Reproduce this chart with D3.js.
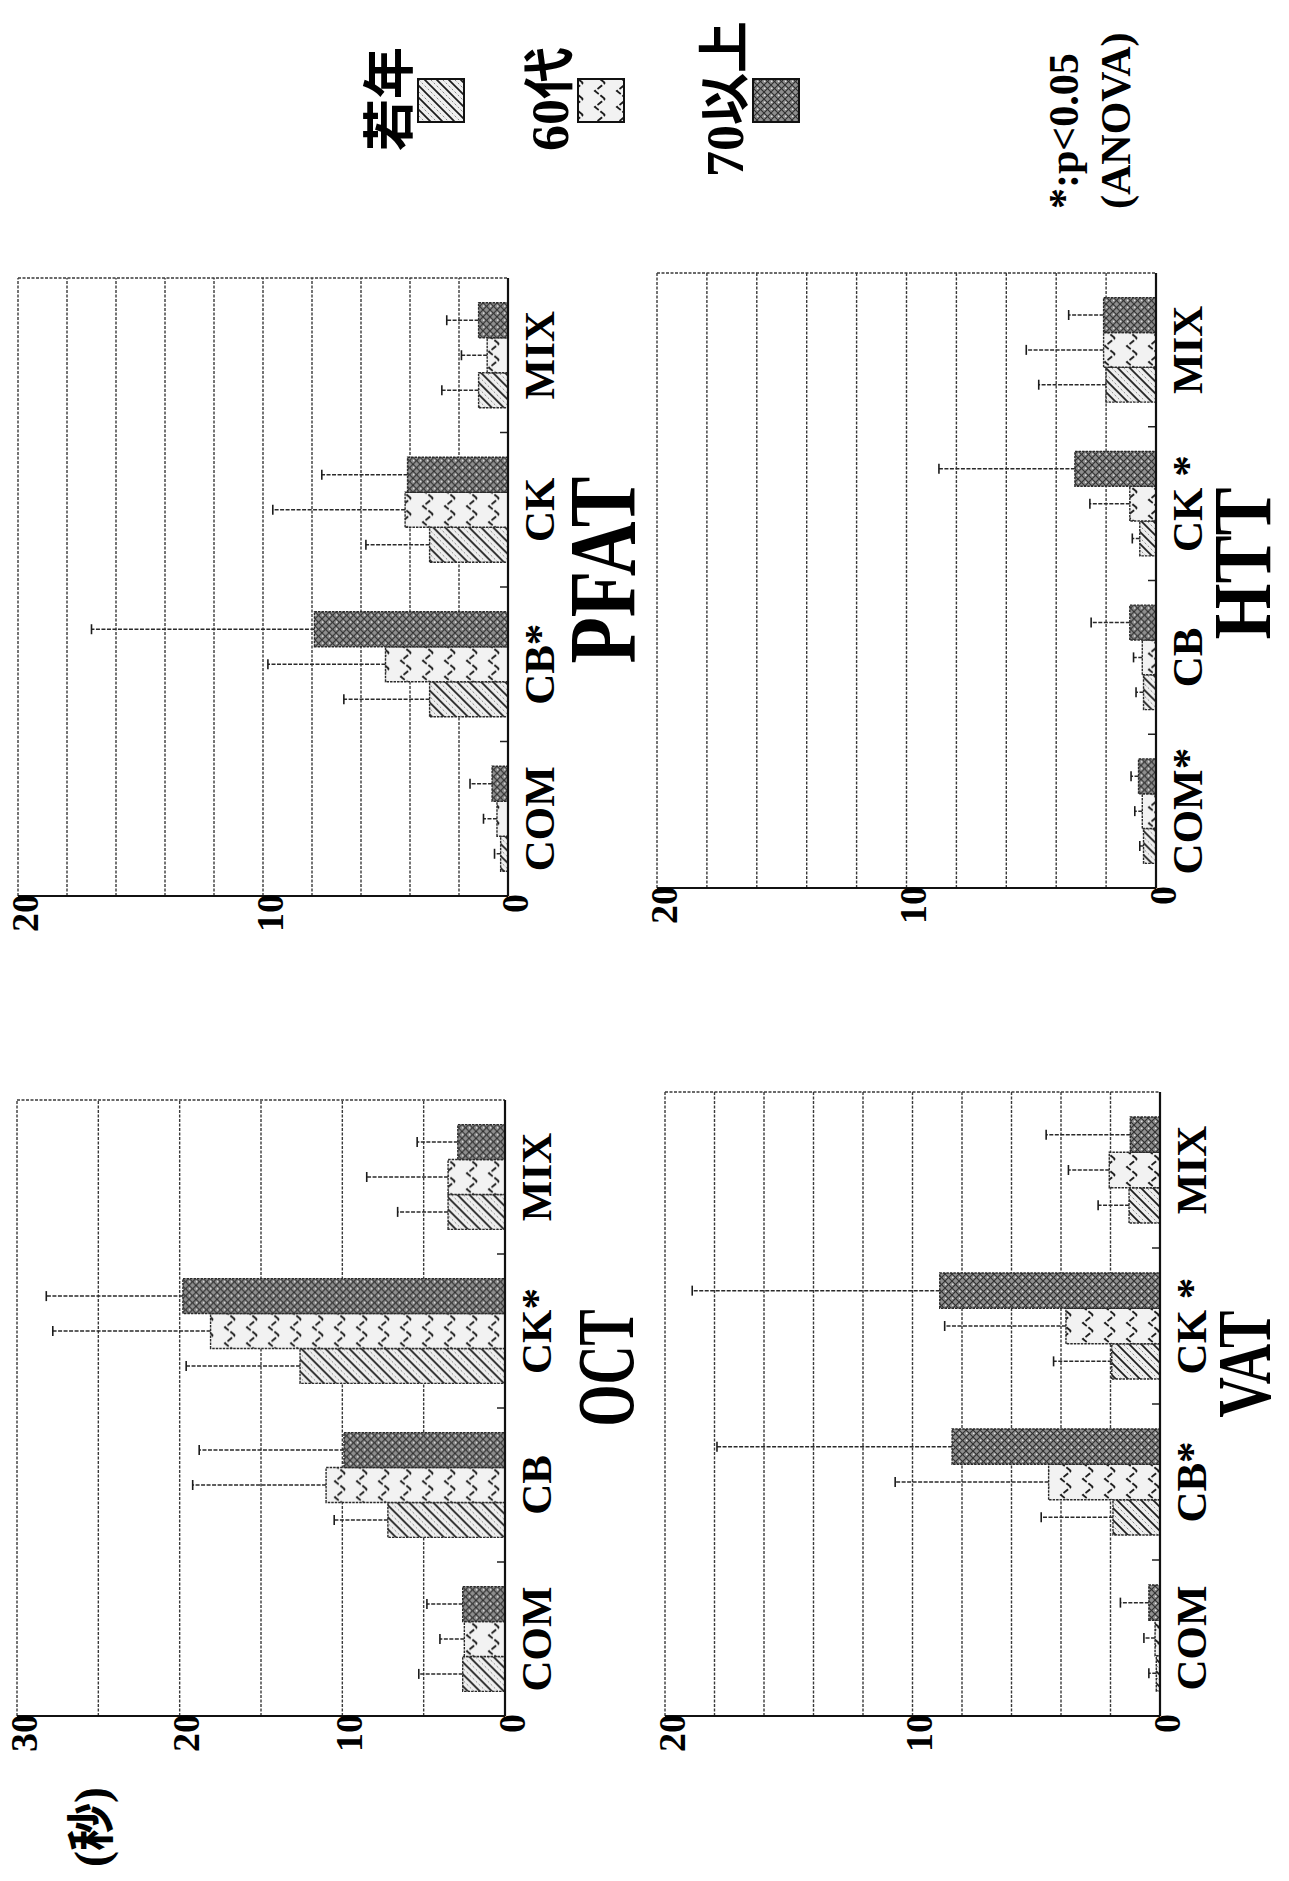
<!DOCTYPE html>
<html>
<head>
<meta charset="utf-8">
<script src="https://cdn.jsdelivr.net/npm/d3@7"></script>
<style>
	body { margin: 0; background: #fff; }
</style>
</head>
<body>
<div id="chart"></div>
<script>
// the chart is laid out landscape and turned a quarter turn, as in the scan
const groups = ['若年', '60代', '70以上']
const categories = ['COM', 'CB', 'CK', 'MIX']

// rows = categories, columns = groups; mean and mean+SD, seconds
const octMean = [[2.6, 2.5, 2.6], [7.2, 11.0, 9.9], [12.6, 18.1, 19.8], [3.5, 3.5, 2.9]]
const octUpper = [[5.3, 4.0, 4.8], [10.5, 19.2, 18.8], [19.6, 27.8, 28.2], [6.6, 8.5, 5.4]]
const pfatMean = [[0.3, 0.45, 0.65], [3.2, 5.0, 7.9], [3.2, 4.2, 4.1], [1.2, 0.85, 1.2]]
const pfatUpper = [[0.55, 1.0, 1.55], [6.7, 9.8, 17.0], [5.8, 9.6, 7.6], [2.7, 1.9, 2.5]]
const vatMean = [[0.15, 0.2, 0.45], [1.9, 4.5, 8.4], [1.95, 3.8, 8.9], [1.25, 2.05, 1.2]]
const vatUpper = [[0.45, 0.65, 1.6], [4.8, 10.7, 17.9], [4.3, 8.7, 18.9], [2.5, 3.7, 4.6]]
const httMean = [[0.5, 0.55, 0.7], [0.5, 0.55, 1.05], [0.65, 1.05, 3.25], [2.0, 2.1, 2.1]]
const httUpper = [[0.65, 0.85, 1.0], [0.8, 0.9, 2.6], [0.95, 2.65, 8.7], [4.7, 5.2, 3.5]]

const octLabels = ['COM', 'CB', 'CK*', 'MIX']
const pfatLabels = ['COM', 'CB*', 'CK', 'MIX']
const vatLabels = ['COM', 'CB*', 'CK *', 'MIX']
const httLabels = ['COM*', 'CB', 'CK *', 'MIX']

const octTicks = [0, 10, 20, 30]
const smallTicks = [0, 10, 20]

// box: [left, right, zero line, top] in the landscape frame
const panels = [
	{ title: 'OCT', max: 30, grid: 6, ticks: octTicks, labels: octLabels, mean: octMean, upper: octUpper, box: [165, 781, 505, 17], titleDx: 40, titleDy: 128, titleSize: 54, titleStretch: 1.5 },
	{ title: 'PFAT', max: 20, grid: 10, ticks: smallTicks, labels: pfatLabels, mean: pfatMean, upper: pfatUpper, box: [985, 1603, 508, 18], titleDx: 17, titleDy: 127, titleSize: 76, titleStretch: 1.25 },
	{ title: 'VAT', max: 20, grid: 10, ticks: smallTicks, labels: vatLabels, mean: vatMean, upper: vatUpper, box: [165, 789, 1160, 665], titleDx: 40, titleDy: 110, titleSize: 56, titleStretch: 1.35 },
	{ title: 'HTT', max: 20, grid: 10, ticks: smallTicks, labels: httLabels, mean: httMean, upper: httUpper, box: [993, 1608, 1156, 657], titleDx: 17, titleDy: 114, titleSize: 72, titleStretch: 1.15 }
]

const W = 1289
const H = 1881
const serif = '"Liberation Serif", "Noto Sans CJK JP", serif'

const svg = d3.select('#chart').append('svg').attr('width', W).attr('height', H).style('background', '#fff')
const defs = svg.append('defs')

// fill patterns of the three age groups
const pYoung = defs.append('pattern').attr('id', 'p0').attr('patternUnits', 'userSpaceOnUse').attr('width', 12).attr('height', 12)
pYoung.append('rect').attr('width', 12).attr('height', 12).attr('fill', '#efefef')
pYoung.append('path').attr('d', 'M0,6 L6,0 M6,12 L12,6').attr('stroke', '#888').attr('stroke-width', 1).attr('stroke-dasharray', '2,2')
pYoung.append('path').attr('d', 'M-3,3 L3,-3 M0,12 L12,0 M9,15 L15,9').attr('stroke', '#1b1b1b').attr('stroke-width', 1.7)

const pMid = defs.append('pattern').attr('id', 'p1').attr('patternUnits', 'userSpaceOnUse').attr('width', 16).attr('height', 22)
pMid.append('rect').attr('width', 16).attr('height', 22).attr('fill', '#f2f2f2')
pMid.append('path').attr('d', 'M0,15 L8,5 L16,15').attr('fill', 'none').attr('stroke', '#1b1b1b').attr('stroke-width', 1.9).attr('stroke-dasharray', '6,2')

const pOld = defs.append('pattern').attr('id', 'p2').attr('patternUnits', 'userSpaceOnUse').attr('width', 7).attr('height', 7)
pOld.append('rect').attr('width', 7).attr('height', 7).attr('fill', '#8e8e8e')
pOld.append('path').attr('d', 'M0,0 L7,7 M7,0 L0,7').attr('stroke', '#2e2e2e').attr('stroke-width', 1.1)
pOld.append('rect').attr('x', 3).attr('y', 0).attr('width', 1.4).attr('height', 1.4).attr('fill', '#e6e6e6')

const fills = ['url(#p0)', 'url(#p1)', 'url(#p2)']

const page = svg.append('g').attr('transform', `translate(0,${H}) rotate(-90)`)

panels.forEach(function (p) {
	const [x0, x1, yZero, yTop] = p.box
	const x = d3.scaleBand().domain(categories).range([x0, x1]).paddingInner(0.32).paddingOuter(0.16)
	const xg = d3.scaleBand().domain(groups).range([0, x.bandwidth()])
	const y = d3.scaleLinear().domain([0, p.max]).range([yZero, yTop])
	const g = page.append('g')

	// grid lines
	g.append('g')
		.selectAll('line')
		.data(y.ticks(p.grid).filter((d) => d > 0))
		.join('line')
		.attr('x1', x0)
		.attr('x2', x1)
		.attr('y1', (d) => y(d))
		.attr('y2', (d) => y(d))
		.attr('stroke', '#3a3a3a')
		.attr('stroke-width', 1.4)
		.attr('stroke-dasharray', '3,1.5')

	// right edge of the frame
	g.append('line')
		.attr('x1', x1).attr('x2', x1).attr('y1', yTop).attr('y2', yZero)
		.attr('stroke', '#3a3a3a').attr('stroke-width', 1.4).attr('stroke-dasharray', '3,1.5')

	// bars
	const cat = g.append('g')
		.selectAll('g')
		.data(categories)
		.join('g')
		.attr('transform', (d) => `translate(${x(d)},0)`)

	cat.selectAll('rect')
		.data((d, i) => groups.map((k, j) => ({ k, j, v: p.mean[i][j], u: p.upper[i][j] })))
		.join('rect')
		.attr('x', (d) => xg(d.k))
		.attr('y', (d) => y(d.v))
		.attr('width', xg.bandwidth())
		.attr('height', (d) => yZero - y(d.v))
		.attr('fill', (d) => fills[d.j])
		.attr('stroke', '#2a2a2a')
		.attr('stroke-width', 1.4)
		.attr('stroke-dasharray', '2.5,1')

	// error bars, upper side only
	const err = cat.selectAll('g.err')
		.data((d, i) => groups.map((k, j) => ({ k, v: p.mean[i][j], u: p.upper[i][j] })))
		.join('g')
		.attr('class', 'err')
		.attr('transform', (d) => `translate(${xg(d.k) + xg.bandwidth() / 2},0)`)
	err.append('line')
		.attr('y1', (d) => y(d.v)).attr('y2', (d) => y(d.u))
		.attr('stroke', '#2a2a2a').attr('stroke-width', 1.5).attr('stroke-dasharray', '4,1.5')
	err.append('line')
		.attr('x1', -5).attr('x2', 5).attr('y1', (d) => y(d.u)).attr('y2', (d) => y(d.u))
		.attr('stroke', '#1b1b1b').attr('stroke-width', 1.6)

	// small marks between the categories
	g.append('g')
		.selectAll('line')
		.data(categories.slice(1))
		.join('line')
		.attr('x1', (d) => x(d) - (x.step() - x.bandwidth()) / 2)
		.attr('x2', (d) => x(d) - (x.step() - x.bandwidth()) / 2)
		.attr('y1', yZero).attr('y2', yZero - 8)
		.attr('stroke', '#222').attr('stroke-width', 1.5)

	// axes lines
	g.append('line').attr('x1', x0).attr('x2', x0).attr('y1', yTop).attr('y2', yZero)
		.attr('stroke', '#111').attr('stroke-width', 2.2)
	g.append('line').attr('x1', x0).attr('x2', x1).attr('y1', yZero).attr('y2', yZero)
		.attr('stroke', '#111').attr('stroke-width', 2.2)

	// value axis labels
	const ya = g.append('g')
		.attr('transform', `translate(${x0 + 2},0)`)
		.call(d3.axisLeft(y).tickValues(p.ticks).tickSize(0).tickPadding(0))
	ya.select('.domain').remove()
	ya.selectAll('text')
		.attr('dy', '0.5em')
		.attr('font-family', serif).attr('font-size', 38).attr('font-weight', 'bold').attr('fill', '#000')

	// category labels
	const xa = g.append('g')
		.attr('transform', `translate(0,${yZero})`)
		.call(d3.axisBottom(x).tickSize(0).tickPadding(15).tickFormat((d, i) => p.labels[i]))
	xa.select('.domain').remove()
	xa.selectAll('text')
		.attr('font-family', serif).attr('font-size', 43).attr('font-weight', 'bold').attr('fill', '#000')

	// panel title
	g.append('text')
		.attr('transform', `translate(${(x0 + x1) / 2 + p.titleDx},${yZero + p.titleDy}) scale(1,${p.titleStretch})`)
		.attr('text-anchor', 'middle')
		.attr('font-family', serif).attr('font-size', p.titleSize).attr('font-weight', 'bold')
		.text(p.title)
})

// unit
page.append('text')
	.attr('x', 14).attr('y', 108)
	.attr('font-family', serif).attr('font-size', 48).attr('font-weight', 'bold')
	.text('(秒)')

// legend
const ly = d3.scaleOrdinal().domain(groups).range([408, 568, 743])
const leg = page.append('g')
	.selectAll('g')
	.data(groups)
	.join('g')
	.attr('transform', (d) => `translate(1782,${ly(d)})`)
leg.append('text')
	.attr('text-anchor', 'middle')
	.attr('font-family', serif).attr('font-size', 52).attr('font-weight', 'bold')
	.text((d) => d)
leg.append('rect')
	.attr('x', -23).attr('y', 10).attr('width', 43).attr('height', 46)
	.attr('fill', (d, i) => fills[i])
	.attr('stroke', '#111').attr('stroke-width', 2)

// significance note
const note = page.append('text')
	.attr('font-family', serif).attr('font-size', 42).attr('font-weight', 'bold')
note.append('tspan').attr('x', 1672).attr('y', 1078).text('*:p<0.05')
note.append('tspan').attr('x', 1672).attr('y', 1130).text('(ANOVA)')
</script>
</body>
</html>
